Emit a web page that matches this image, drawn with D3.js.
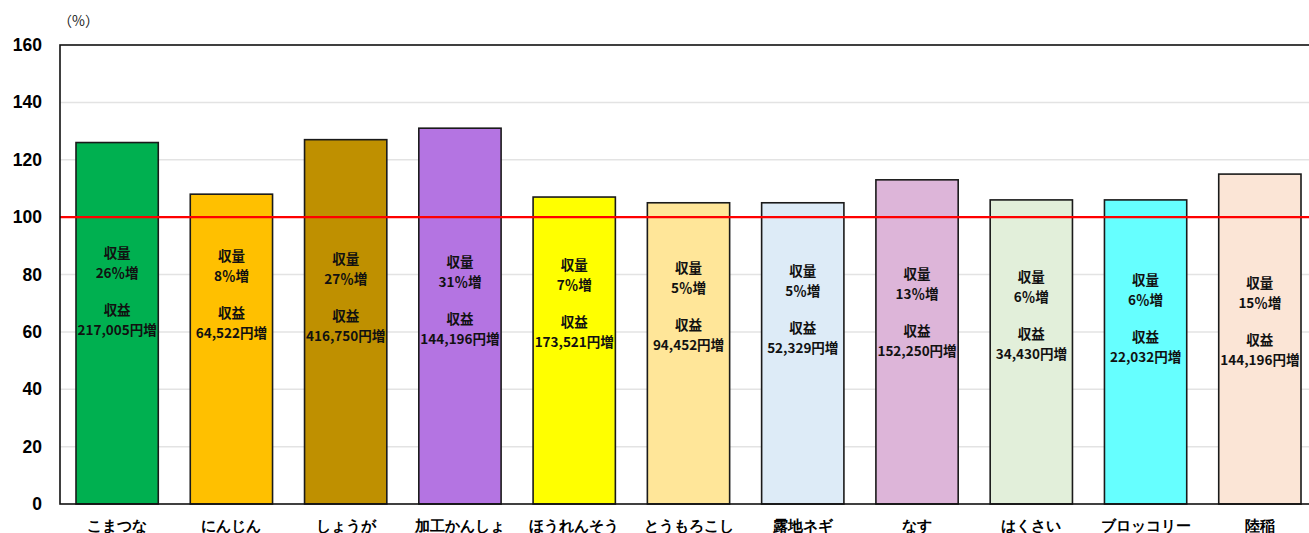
<!DOCTYPE html>
<html><head><meta charset="utf-8">
<script src="https://cdn.jsdelivr.net/npm/d3@7"></script>
<style>
body{margin:0;background:#fff;}
svg{display:block;font-family:"Noto Sans CJK JP","Noto Sans",sans-serif;}
</style></head>
<body><svg id="c" width="1309" height="533"></svg>
<script>
const categories = ["こまつな","にんじん","しょうが","加工かんしょ","ほうれんそう","とうもろこし","露地ネギ","なす","はくさい","ブロッコリー","陸稲"];
const values = [126,108,127,131,107,105,105,113,106,106,115];
const yieldLabels = ["26％増","8％増","27％増","31％増","7％増","5％増","5％増","13％増","6％増","6％増","15％増"];
const profitLabels = ["217,005円増","64,522円増","416,750円増","144,196円増","173,521円増","94,452円増","52,329円増","152,250円増","34,430円増","22,032円増","144,196円増"];
const colors = ["#00B050","#FFC000","#BF9000","#B474E2","#FFFF00","#FFE699","#DDEBF7","#DDB5D9","#E2EFDA","#66FFFF","#FBE5D6"];
const yTicks = [0,20,40,60,80,100,120,140,160];

const svg = d3.select("#c");
const L=60, T=45, B=504, W=1257;
const x = d3.scaleBand().domain(categories).range([L, L+W]).paddingInner(0.28).paddingOuter(0.14);
const y = d3.scaleLinear().domain([0,160]).range([B, T]);

// gridlines
svg.append("g").selectAll("line").data(yTicks.filter(d=>d>0 && d<160)).join("line")
  .attr("x1",L).attr("x2",L+W).attr("y1",d=>y(d)).attr("y2",d=>y(d))
  .attr("stroke","#e3e3e3").attr("stroke-width",1.5);

// y axis labels
const ya = svg.append("g").attr("transform",`translate(${L},0)`)
  .call(d3.axisLeft(y).tickValues(yTicks).tickSize(0).tickPadding(18));
ya.select(".domain").remove();
ya.selectAll("text").attr("font-size",17.5).attr("font-weight","bold").attr("fill","#000")
  .attr("font-family","'Liberation Sans',Arial,sans-serif");

// bars
const bars = svg.append("g").selectAll("g").data(categories).join("g");
bars.append("rect")
  .attr("x",d=>x(d)).attr("width",x.bandwidth())
  .attr("y",(d,i)=>y(values[i])).attr("height",(d,i)=>y(0)-y(values[i]))
  .attr("fill",(d,i)=>colors[i]).attr("stroke","#1a1a1a").attr("stroke-width",1.6);

// labels inside bars
bars.each(function(d,i){
  const g=d3.select(this);
  const cx=x(d)+x.bandwidth()/2;
  const y0=258+i*3;
  const lines=[["収量",0],[yieldLabels[i],20],["収益",57],[profitLabels[i],77]];
  lines.forEach(([t,dy])=>{
    g.append("text").attr("x",cx).attr("y",y0+dy).attr("text-anchor","middle")
      .attr("font-size",13.5).attr("font-weight","bold").attr("fill","#111").text(t);
  });
});

// red reference line at 100
svg.append("line").attr("x1",L).attr("x2",L+W).attr("y1",y(100)).attr("y2",y(100))
  .attr("stroke","#FF0000").attr("stroke-width",2.2);

// frame
svg.append("rect").attr("x",L).attr("y",T).attr("width",W).attr("height",B-T)
  .attr("fill","none").attr("stroke","#111").attr("stroke-width",1.6);

// x axis labels
const xa = svg.append("g").attr("transform",`translate(0,${B})`)
  .call(d3.axisBottom(x).tickSize(0).tickPadding(16));
xa.select(".domain").remove();
xa.selectAll("text").attr("font-size",15).attr("font-weight","bold").attr("fill","#000");

// unit
svg.append("text").attr("x",58).attr("y",26).attr("font-size",14).attr("fill","#222").text("（%）");
</script></body></html>
